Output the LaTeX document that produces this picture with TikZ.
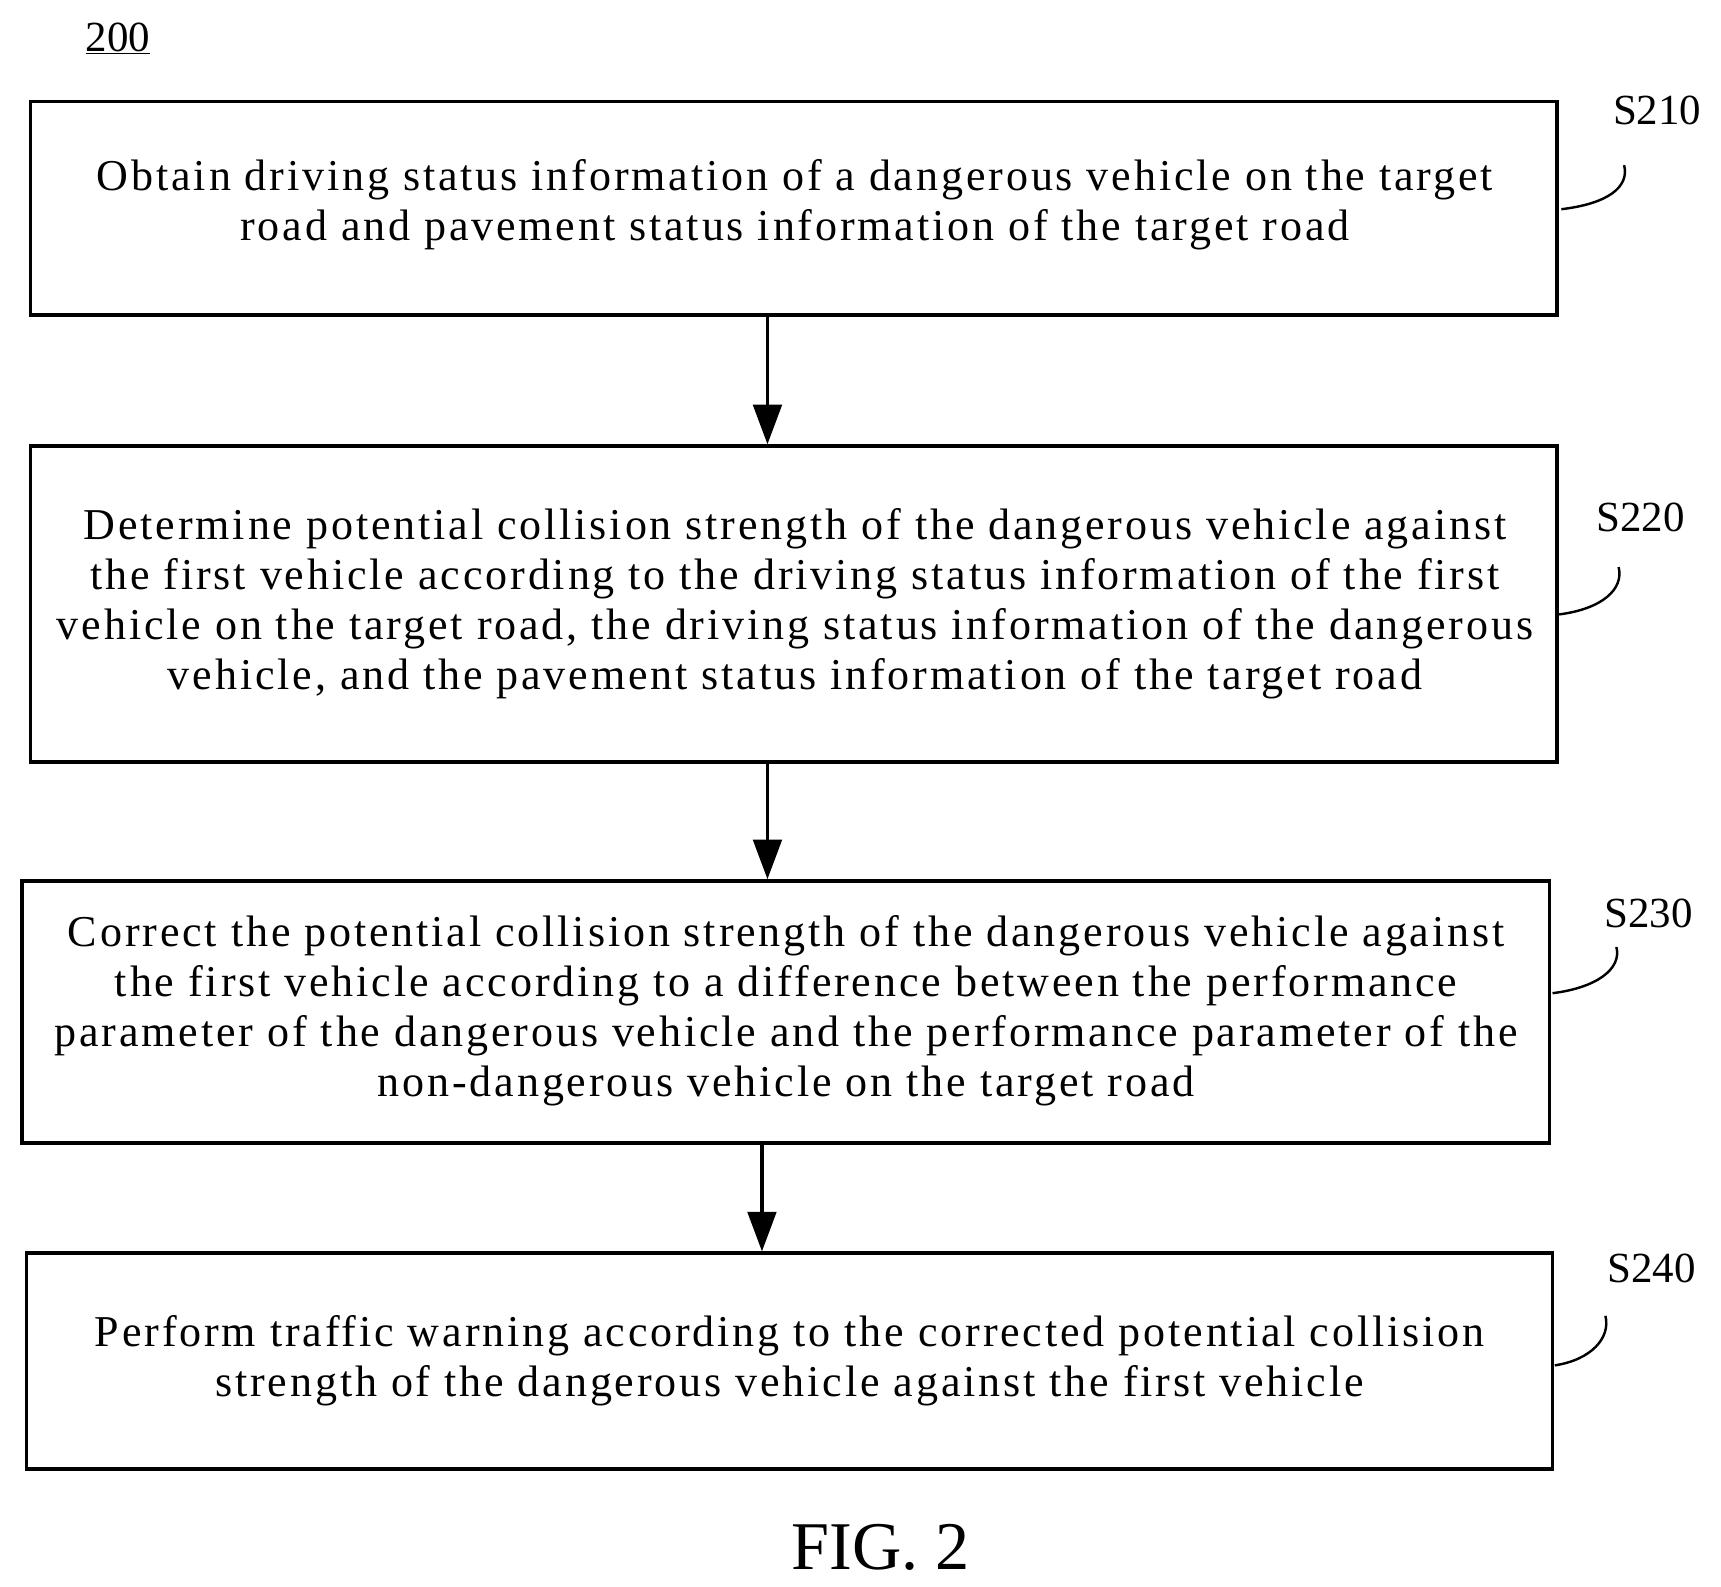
\documentclass[tikz,border=0pt]{standalone}
\usepackage{fontspec}
\setmainfont{Liberation Serif}
\usetikzlibrary{arrows.meta}
\begin{document}
\begin{tikzpicture}[x=1pt,y=-1pt,
  box/.style={draw,line width=3pt,inner sep=0pt},
  txt/.style={align=center,font=\fontsize{40}{45.5}\selectfont\addfontfeature{LetterSpace=6.5}},
  lab/.style={font=\fontsize{39}{44}\selectfont},
  arr/.style={line width=3pt,-{Triangle[length=36pt,width=26pt]}},
  lead/.style={line width=2.2pt}]
\useasboundingbox (0,0) rectangle (1563,1441);
\node[lab] (n200) at (107,35) {\underline{200}};
\node[box,minimum width=1386pt,minimum height=194pt] (b1) at (721,189) {};
\node[box,minimum width=1386pt,minimum height=287pt] (b2) at (721,548.5) {};
\node[box,minimum width=1387pt,minimum height=238pt] (b3) at (713.5,919) {};
\node[box,minimum width=1386pt,minimum height=196pt] (b4) at (717,1236) {};
\node[txt] (t1) at (722,186) {Obtain driving status information of a dangerous vehicle on the target\\road and pavement status information of the target road};
\node[txt] (t2) at (722,548) {Determine potential collision strength of the dangerous vehicle against\\the first vehicle according to the driving status information of the first\\vehicle on the target road, the driving status information of the dangerous\\vehicle, and the pavement status information of the target road};
\node[txt] (t3) at (714,918) {Correct the potential collision strength of the dangerous vehicle against\\the first vehicle according to a difference between the performance\\parameter of the dangerous vehicle and the performance parameter of the\\non-dangerous vehicle on the target road};
\node[txt] (t4) at (717,1236) {Perform traffic warning according to the corrected potential collision\\strength of the dangerous vehicle against the first vehicle};
\draw[arr] (b1.south -| 697,0) -- (b2.north -| 697,0);
\draw[arr] (b2.south -| 697,0) -- (b3.north -| 697,0);
\draw[arr] (b3.south -| 692,0) -- (b4.north -| 692,0);
\node[lab] (s1) at (1505,100) {S210};
\node[lab] (s2) at (1490,470) {S220};
\node[lab] (s3) at (1497,830) {S230};
\node[lab] (s4) at (1500,1152) {S240};
\draw[lead] (1418,190) .. controls (1460,185) and (1480,170) .. (1475,150);
\draw[lead] (1416,558) .. controls (1455,553) and (1475,535) .. (1470,515);
\draw[lead] (1410,902) .. controls (1450,897) and (1473,880) .. (1468,860);
\draw[lead] (1412,1240) .. controls (1445,1235) and (1463,1215) .. (1458,1195);
\node[font=\fontsize{62}{70}\selectfont] (fig) at (800,1405) {FIG. 2};
\end{tikzpicture}
\end{document}
